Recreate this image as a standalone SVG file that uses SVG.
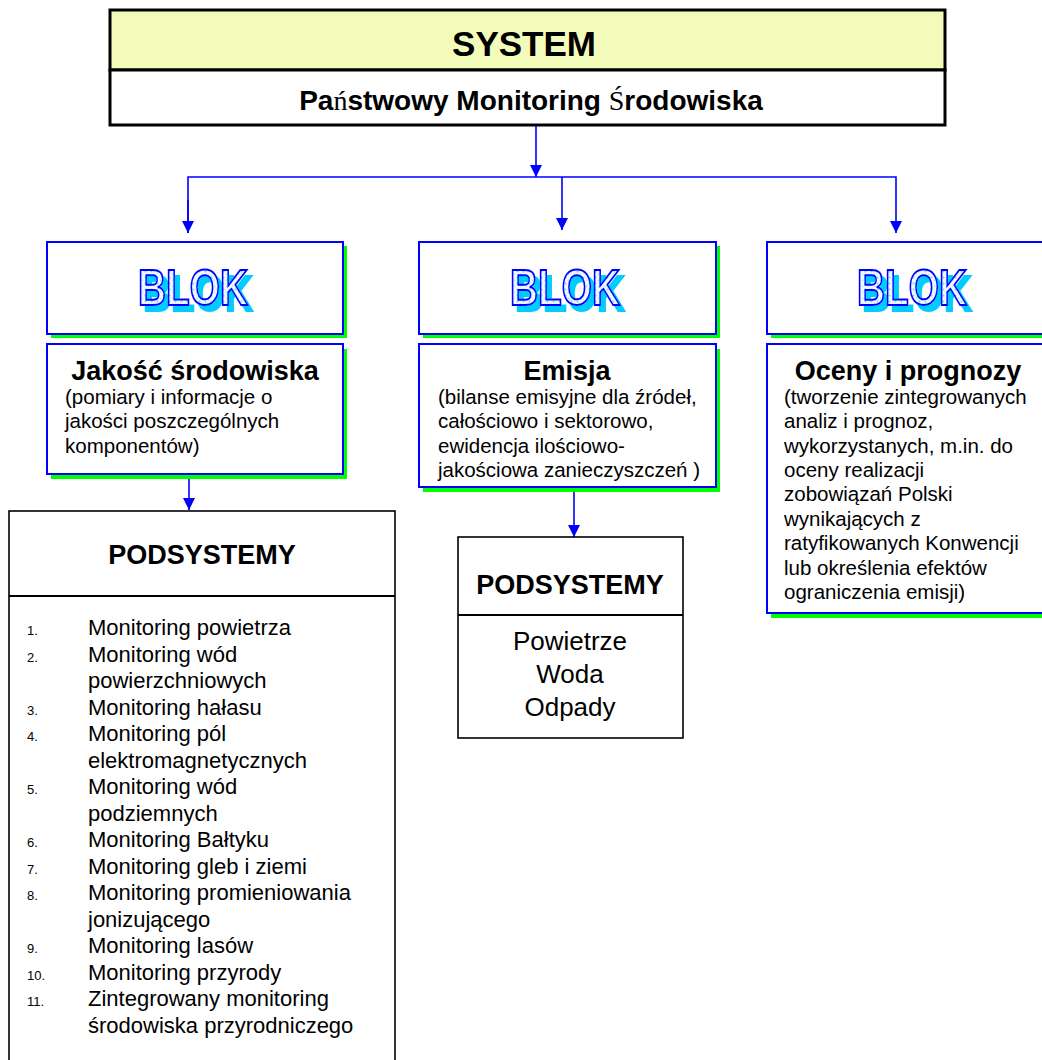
<svg xmlns="http://www.w3.org/2000/svg" width="1042" height="1060" viewBox="0 0 1042 1060">
<defs>
<style>
.t{font-family:"Liberation Sans",Arial,sans-serif;fill:#000}
.b{font-weight:bold}
.ser{font-family:"Liberation Serif","Times New Roman",serif;font-weight:normal}
.conn{stroke:#0000ff;stroke-width:1.6;fill:none}
.bbox{fill:#fff;stroke:#0000ff;stroke-width:2}
.shadow{fill:#00ff00}
.sbox{fill:#fff;stroke:#000;stroke-width:1.6}
.blok{font-family:"Liberation Sans",Arial,sans-serif;font-weight:bold;font-size:50px;fill:url(#speck);stroke:#0000ff;stroke-width:2;filter:url(#wa)}
.num{font-size:13px}
.li{font-size:22px}
.body{font-size:20.5px}
.ttl{font-size:27px;font-weight:bold}
</style>
<pattern id="speck" width="6" height="6" patternUnits="userSpaceOnUse">
<rect width="6" height="6" fill="#eefaff"/>
<circle cx="1.5" cy="1.5" r="1" fill="#7fd4ff"/>
<circle cx="4.5" cy="4.2" r="0.7" fill="#9fe0ff"/>
</pattern>
<filter id="wa" x="-20%" y="-30%" width="150%" height="170%">
<feFlood flood-color="#00ccff" result="c"/>
<feComposite in="c" in2="SourceAlpha" operator="in" result="s"/>
<feOffset in="s" dx="5" dy="6" result="o"/>
<feMerge><feMergeNode in="o"/><feMergeNode in="SourceGraphic"/></feMerge>
</filter>
<marker id="ah" viewBox="0 0 12 12" refX="12" refY="6" markerWidth="12" markerHeight="12" markerUnits="userSpaceOnUse" orient="auto">
<path d="M0,0 L12,6 L0,12 Z" fill="#0000ff"/>
</marker>
</defs>
<rect width="1042" height="1060" fill="#fff"/>

<g id="system">
<rect x="110" y="10" width="835" height="60" fill="#f3fbbb" stroke="#000" stroke-width="3"/>
<rect x="110" y="70" width="835" height="55" fill="#fff" stroke="#000" stroke-width="3"/>
<text class="t b" x="524" y="56" font-size="35" text-anchor="middle">SYSTEM</text>
<text class="t b" x="531" y="110" font-size="28" text-anchor="middle">Pa<tspan class="ser">ń</tspan>stwowy Monitoring <tspan class="ser">Ś</tspan>rodowiska</text>
</g>

<g id="connectors">
<line class="conn" x1="536" y1="126" x2="536" y2="177" marker-end="url(#ah)"/>
<polyline class="conn" points="188,233 188,177 896,177 896,233" marker-end="url(#ah)"/>
<line class="conn" x1="188" y1="200" x2="188" y2="233" marker-end="url(#ah)"/>
<line class="conn" x1="562" y1="177" x2="562" y2="230" marker-end="url(#ah)"/>
<line class="conn" x1="189" y1="478" x2="189" y2="510" marker-end="url(#ah)"/>
<line class="conn" x1="574" y1="491" x2="574" y2="537" marker-end="url(#ah)"/>
</g>

<g id="blok1">
<rect class="shadow" x="51" y="246" width="296" height="92"/>
<rect class="bbox" x="47" y="242" width="296" height="92"/>
<text class="blok" x="193" y="305" text-anchor="middle" textLength="110" lengthAdjust="spacingAndGlyphs">BLOK</text>
</g>
<g id="blok2">
<rect class="shadow" x="423" y="246" width="297" height="92"/>
<rect class="bbox" x="419" y="242" width="297" height="92"/>
<text class="blok" x="565" y="305" text-anchor="middle" textLength="110" lengthAdjust="spacingAndGlyphs">BLOK</text>
</g>
<g id="blok3">
<rect class="shadow" x="771" y="246" width="296" height="92"/>
<rect class="bbox" x="767" y="242" width="296" height="92"/>
<text class="blok" x="912" y="305" text-anchor="middle" textLength="110" lengthAdjust="spacingAndGlyphs">BLOK</text>
</g>

<g id="jakosc">
<rect class="shadow" x="51" y="349" width="296" height="130"/>
<rect class="bbox" x="47" y="344" width="296" height="130"/>
<text class="t ttl" x="195" y="380" text-anchor="middle">Jakość środowiska</text>
<text class="t body" x="65" y="404">(pomiary i informacje o</text>
<text class="t body" x="65" y="428">jakości poszczególnych</text>
<text class="t body" x="65" y="453">komponentów)</text>
</g>

<g id="emisja">
<rect class="shadow" x="423" y="349" width="297" height="143"/>
<rect class="bbox" x="419" y="344" width="297" height="143"/>
<text class="t ttl" x="567" y="380" text-anchor="middle">Emisja</text>
<text class="t body" x="438" y="404">(bilanse emisyjne dla źródeł,</text>
<text class="t body" x="438" y="428">całościowo i sektorowo,</text>
<text class="t body" x="438" y="453">ewidencja ilościowo-</text>
<text class="t body" x="438" y="477">jakościowa zanieczyszczeń )</text>
</g>

<g id="oceny">
<rect class="shadow" x="771" y="349" width="296" height="269"/>
<rect class="bbox" x="767" y="344" width="296" height="269"/>
<text class="t ttl" x="908" y="380" text-anchor="middle">Oceny i prognozy</text>
<text class="t body" x="784" y="404">(tworzenie zintegrowanych</text>
<text class="t body" x="784" y="428">analiz i prognoz,</text>
<text class="t body" x="784" y="453">wykorzystanych, m.in. do</text>
<text class="t body" x="784" y="477">oceny realizacji</text>
<text class="t body" x="784" y="501">zobowiązań Polski</text>
<text class="t body" x="784" y="526">wynikających z</text>
<text class="t body" x="784" y="550">ratyfikowanych Konwencji</text>
<text class="t body" x="784" y="575">lub określenia efektów</text>
<text class="t body" x="784" y="599">ograniczenia emisji)</text>
</g>

<g id="podsystemy1">
<rect class="sbox" x="9" y="511" width="386" height="580"/>
<line x1="9" y1="596" x2="395" y2="596" stroke="#000" stroke-width="2"/>
<text class="t b" x="202" y="564" font-size="27" text-anchor="middle">PODSYSTEMY</text>
<g class="t">
<text class="num" x="27" y="635">1.</text><text class="li" x="88" y="635">Monitoring powietrza</text>
<text class="num" x="27" y="661.5">2.</text><text class="li" x="88" y="661.5">Monitoring wód</text>
<text class="li" x="88" y="688">powierzchniowych</text>
<text class="num" x="27" y="714.5">3.</text><text class="li" x="88" y="714.5">Monitoring hałasu</text>
<text class="num" x="27" y="741">4.</text><text class="li" x="88" y="741">Monitoring pól</text>
<text class="li" x="88" y="767.5">elektromagnetycznych</text>
<text class="num" x="27" y="794">5.</text><text class="li" x="88" y="794">Monitoring wód</text>
<text class="li" x="88" y="820.5">podziemnych</text>
<text class="num" x="27" y="847">6.</text><text class="li" x="88" y="847">Monitoring Bałtyku</text>
<text class="num" x="27" y="873.5">7.</text><text class="li" x="88" y="873.5">Monitoring gleb i ziemi</text>
<text class="num" x="27" y="900">8.</text><text class="li" x="88" y="900">Monitoring promieniowania</text>
<text class="li" x="88" y="926.5">jonizującego</text>
<text class="num" x="27" y="953">9.</text><text class="li" x="88" y="953">Monitoring lasów</text>
<text class="num" x="27" y="979.5">10.</text><text class="li" x="88" y="979.5">Monitoring przyrody</text>
<text class="num" x="27" y="1006">11.</text><text class="li" x="88" y="1006">Zintegrowany monitoring</text>
<text class="li" x="88" y="1032.5">środowiska przyrodniczego</text>
</g>
</g>

<g id="podsystemy2">
<rect class="sbox" x="458" y="537" width="225" height="201"/>
<line x1="458" y1="615" x2="683" y2="615" stroke="#000" stroke-width="2"/>
<text class="t b" x="570" y="594" font-size="27" text-anchor="middle">PODSYSTEMY</text>
<text class="t" x="570" y="650" font-size="26" text-anchor="middle">Powietrze</text>
<text class="t" x="570" y="683" font-size="26" text-anchor="middle">Woda</text>
<text class="t" x="570" y="716" font-size="26" text-anchor="middle">Odpady</text>
</g>
</svg>
